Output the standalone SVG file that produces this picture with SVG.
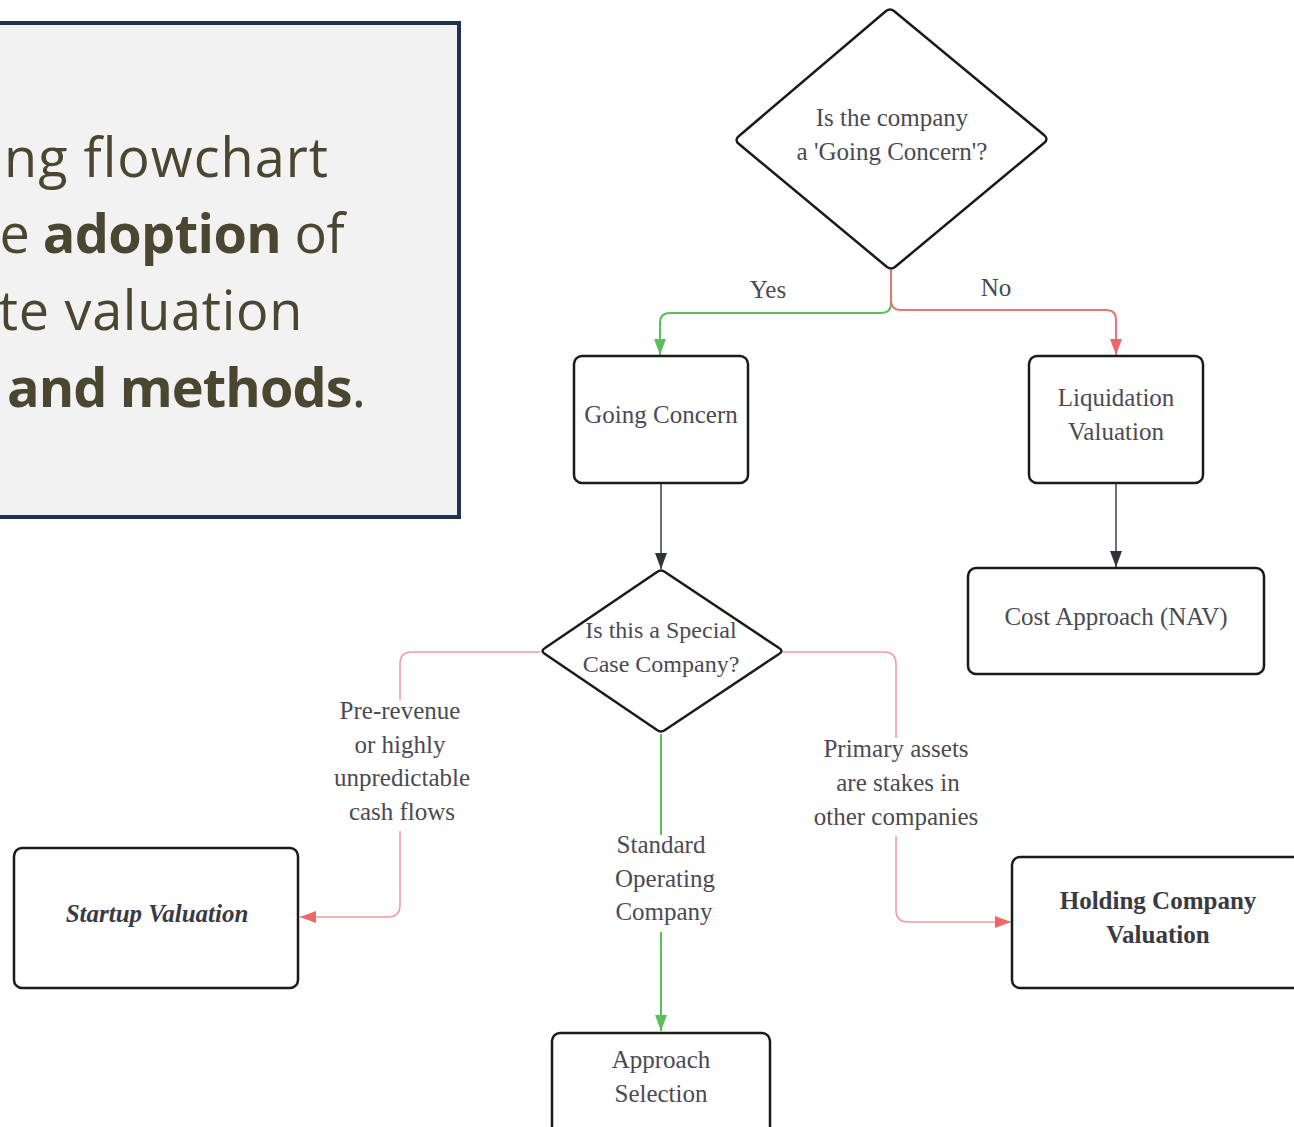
<svg xmlns="http://www.w3.org/2000/svg" width="1294" height="1127" viewBox="0 0 1294 1127">
  <style>
    .node { fill: #ffffff; stroke: #1a1a1a; stroke-width: 2.5; }
    .lbl { font-family: "Liberation Serif", "DejaVu Serif", serif; font-size: 25px; fill: #4a4a52; text-anchor: middle; }
    .small { font-size: 24px; }
    .bold { font-weight: bold; fill: #3a3a42; font-size: 25px; }
    .head { font-family: "Open Sans", "Liberation Sans", sans-serif; font-size: 54px; fill: #4b4630; text-anchor: end; }
    .hb { font-weight: bold; }
    .green { fill: none; stroke: #5cbd5c; stroke-width: 2; }
    .red { fill: none; stroke: #ee7272; stroke-width: 2; }
    .pink { fill: none; stroke: #f19aa2; stroke-width: 1.6; }
    .dark { fill: none; stroke: #2f343a; stroke-width: 1.4; }
  </style>
  <defs>
    <marker id="ah-green" viewBox="0 0 16 12" refX="16" refY="6" markerWidth="16" markerHeight="12" markerUnits="userSpaceOnUse" orient="auto">
      <path d="M0,0 L16,6 L0,12 z" fill="#5cbd5c"/>
    </marker>
    <marker id="ah-red" viewBox="0 0 16 12" refX="16" refY="6" markerWidth="16" markerHeight="12" markerUnits="userSpaceOnUse" orient="auto">
      <path d="M0,0 L16,6 L0,12 z" fill="#ee6666"/>
    </marker>
    <marker id="ah-dark" viewBox="0 0 16 12" refX="16" refY="6" markerWidth="16" markerHeight="12" markerUnits="userSpaceOnUse" orient="auto">
      <path d="M0,0 L16,6 L0,12 z" fill="#2f343a"/>
    </marker>
  </defs>

  <rect width="1294" height="1127" fill="#ffffff"/>

  <!-- Title panel (partly off the left edge) -->
  <g id="title-panel">
    <rect x="-10" y="23" width="469" height="494" fill="#f2f2f2" stroke="#1f3250" stroke-width="4"/>
    <text class="head" x="329" y="177" letter-spacing="1">ng flowchart</text>
    <text class="head" x="344" y="253" letter-spacing="-0.6">e <tspan class="hb">adoption</tspan> of</text>
    <text class="head" x="303" y="330" letter-spacing="0.7">te valuation</text>
    <text class="head" x="365" y="407" letter-spacing="-0.9"><tspan class="hb">and methods</tspan>.</text>
  </g>

  <!-- Connectors -->
  <g id="connectors">
    <path class="green" d="M891,270 V303 Q891,313 881,313 H670 Q660,313 660,323 V355" marker-end="url(#ah-green)"/>
    <path class="red" d="M891,270 V300 Q891,310 901,310 H1106 Q1116,310 1116,320 V355" marker-end="url(#ah-red)"/>
    <path class="dark" d="M661,483 V569" marker-end="url(#ah-dark)"/>
    <path class="dark" d="M1116,483 V567" marker-end="url(#ah-dark)"/>
    <path class="pink" d="M540,652 H412 Q400,652 400,664 V700"/>
    <path class="pink" d="M400,831 V905 Q400,917 388,917 H300" marker-end="url(#ah-red)"/>
    <path class="pink" d="M783,652 H884 Q896,652 896,664 V738"/>
    <path class="pink" d="M896,836 V910 Q896,922 908,922 H1011" marker-end="url(#ah-red)"/>
    <path class="green" d="M661,734 V835"/>
    <path class="green" d="M661,932 V1031" marker-end="url(#ah-green)"/>

    <text class="lbl" x="768" y="298">Yes</text>
    <text class="lbl" x="996" y="296">No</text>

    <text class="lbl" x="400" y="719">Pre-revenue</text>
    <text class="lbl" x="400" y="753">or highly</text>
    <text class="lbl" x="402" y="786">unpredictable</text>
    <text class="lbl" x="402" y="820">cash flows</text>

    <text class="lbl" x="896" y="757">Primary assets</text>
    <text class="lbl" x="898" y="791">are stakes in</text>
    <text class="lbl" x="896" y="825">other companies</text>

    <text class="lbl" x="661" y="853">Standard</text>
    <text class="lbl" x="665" y="887">Operating</text>
    <text class="lbl" x="664" y="920">Company</text>
  </g>

  <!-- Decision: going concern -->
  <g id="going-concern-decision">
    <path class="node" d="M886,11 Q890,8 894,11 L1044,135 Q1049,139 1044,143 L895,267 Q891,270 887,267 L739,144 Q734,140 739,136 Z"/>
    <text class="lbl" x="892" y="126">Is the company</text>
    <text class="lbl" x="892" y="160">a 'Going Concern'?</text>
  </g>

  <g id="going-concern">
    <rect class="node" x="574" y="356" width="174" height="127" rx="8"/>
    <text class="lbl" x="661" y="423">Going Concern</text>
  </g>

  <g id="liquidation-valuation">
    <rect class="node" x="1029" y="356" width="174" height="127" rx="8"/>
    <text class="lbl" x="1116" y="406">Liquidation</text>
    <text class="lbl" x="1116" y="440">Valuation</text>
  </g>

  <g id="cost-approach">
    <rect class="node" x="968" y="568" width="296" height="106" rx="8"/>
    <text class="lbl" x="1116" y="625">Cost Approach (NAV)</text>
  </g>

  <!-- Decision: special case -->
  <g id="special-case-decision">
    <path class="node" d="M657,572 Q661,569 665,572 L779,648 Q784,651 779,654 L665,730 Q661,733 657,730 L545,654 Q540,651 545,648 Z"/>
    <text class="lbl small" x="661" y="638">Is this a Special</text>
    <text class="lbl small" x="661" y="672">Case Company?</text>
  </g>

  <g id="startup-valuation">
    <rect class="node" x="14" y="848" width="284" height="140" rx="8"/>
    <text class="lbl bold" x="157" y="922" font-style="italic">Startup Valuation</text>
  </g>

  <g id="holding-company-valuation">
    <rect class="node" x="1012" y="857" width="300" height="131" rx="8"/>
    <text class="lbl bold" x="1158" y="909">Holding Company</text>
    <text class="lbl bold" x="1158" y="943">Valuation</text>
  </g>

  <g id="approach-selection">
    <rect class="node" x="552" y="1033" width="218" height="120" rx="8"/>
    <text class="lbl" x="661" y="1068">Approach</text>
    <text class="lbl" x="661" y="1102">Selection</text>
  </g>
</svg>
